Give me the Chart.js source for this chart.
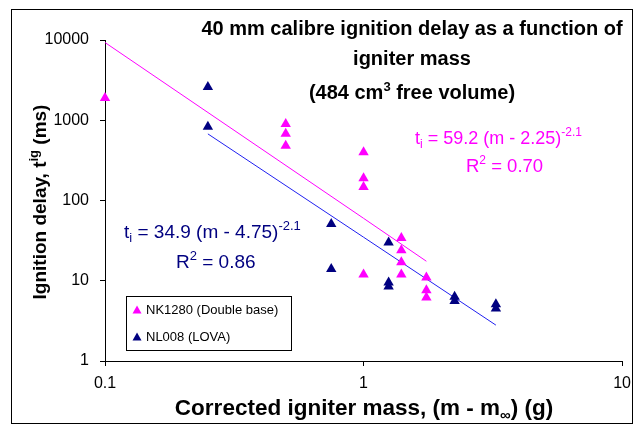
<!DOCTYPE html>
<html>
<head>
<meta charset="utf-8">
<script src="https://cdn.jsdelivr.net/npm/chart.js@4/dist/chart.umd.min.js"></script>
<style>
  html, body { margin: 0; padding: 0; background: #fff; }
  #wrap { width: 639px; height: 429px; position: relative; }
</style>
</head>
<body>
<div id="wrap"><canvas id="c" width="639" height="429"></canvas></div>
<script>
// NK1280 (Double base) measurements
const nkMass = [0.1, 0.5, 0.5, 0.5, 1, 1, 1, 1, 1.4, 1.4, 1.4, 1.4, 1.75, 1.75, 1.75];
const nkDelay = [1900, 900, 680, 480, 400, 190, 147, 12, 34, 24, 17, 12, 11, 7.6, 6.2];
// NL008 (LOVA) measurements
const nlMass = [0.25, 0.25, 0.75, 0.75, 1.25, 1.25, 1.25, 2.25, 2.25, 3.25, 3.25];
const nlDelay = [2600, 830, 51, 14, 30, 9.5, 8.5, 6.3, 5.6, 5.1, 4.5];
// fitted trend lines (end points)
const nkFitMass = [0.1, 1, 1.75];
const nkFitDelay = [9300, 60, 17.5];
const nlFitMass = [0.25, 1, 3.25];
const nlFitDelay = [676, 34.9, 2.8];

const xTicks = [0.1, 1, 10];
const yTicks = [1, 10, 100, 1000, 10000];

const PINK = '#FF00FF', NAVY = '#000080', BLUE = '#2020F0';
const xy = (xs, ys) => xs.map((x, i) => ({ x, y: ys[i] }));

// draws text made of runs, some raised or lowered
function richText(ctx, runs, x, y, align, size, bold, color) {
  const base = (bold ? 'bold ' : '') + size + 'px "Liberation Sans", Arial, sans-serif';
  const small = (bold ? 'bold ' : '') + Math.round(size * 0.66) + 'px "Liberation Sans", Arial, sans-serif';
  let w = 0;
  runs.forEach(r => { ctx.font = r.s ? small : base; w += ctx.measureText(r.t).width; });
  let cx = align === 'center' ? x - w / 2 : align === 'right' ? x - w : x;
  ctx.fillStyle = color;
  ctx.textAlign = 'left';
  ctx.textBaseline = 'alphabetic';
  runs.forEach(r => {
    ctx.font = r.s ? small : base;
    const dy = r.s === 'sup' ? -size * 0.42 : r.s === 'sub' ? size * 0.22 : 0;
    ctx.fillText(r.t, cx, y + dy);
    cx += ctx.measureText(r.t).width;
  });
}

const annotations = {
  id: 'annotations',
  afterDraw(chart) {
    const ctx = chart.ctx;
    ctx.save();
    // outer frame
    ctx.strokeStyle = '#000';
    ctx.lineWidth = 1;
    ctx.strokeRect(11.5, 9.5, 621, 414);

    // title
    richText(ctx, [{ t: '40 mm calibre ignition delay as a function of' }], 412, 35, 'center', 20, true, '#000');
    richText(ctx, [{ t: 'igniter mass' }], 412, 65, 'center', 20, true, '#000');
    richText(ctx, [{ t: '(484 cm' }, { t: '3', s: 'sup' }, { t: ' free volume)' }], 412, 99, 'center', 20, true, '#000');

    // fit equations
    richText(ctx, [{ t: 't' }, { t: 'i', s: 'sub' }, { t: ' = 59.2 (m - 2.25)' }, { t: '-2.1', s: 'sup' }], 415, 144, 'left', 18, false, PINK);
    richText(ctx, [{ t: 'R' }, { t: '2', s: 'sup' }, { t: ' = 0.70' }], 466, 172, 'left', 18.5, false, PINK);
    richText(ctx, [{ t: 't' }, { t: 'i', s: 'sub' }, { t: ' = 34.9 (m - 4.75)' }, { t: '-2.1', s: 'sup' }], 124, 238, 'left', 19, false, NAVY);
    richText(ctx, [{ t: 'R' }, { t: '2', s: 'sup' }, { t: ' = 0.86' }], 176, 268, 'left', 19, false, NAVY);

    // axis titles
    richText(ctx, [{ t: 'Corrected igniter mass, (m - m' }, { t: '\u221E', s: 'sub' }, { t: ') (g)' }], 364, 415, 'center', 22.5, true, '#000');
    ctx.translate(46, 202);
    ctx.rotate(-Math.PI / 2);
    richText(ctx, [{ t: 'Ignition delay, t' }, { t: 'ig', s: 'sup' }, { t: ' (ms)' }], 0, 0, 'center', 19, true, '#000');
    ctx.setTransform(1, 0, 0, 1, 0, 0);

    // legend box
    ctx.fillStyle = '#fff';
    ctx.fillRect(126, 296, 165, 54);
    ctx.strokeStyle = '#000';
    ctx.strokeRect(126.5, 296.5, 165, 54);
    chart.data.datasets.filter(d => d.showLine === false).forEach((d, i) => {
      const ly = 310 + i * 27;
      ctx.fillStyle = d.backgroundColor;
      ctx.beginPath();
      ctx.moveTo(137, ly - 4.5);
      ctx.lineTo(141.5, ly + 3.5);
      ctx.lineTo(132.5, ly + 3.5);
      ctx.closePath();
      ctx.fill();
      ctx.fillStyle = '#000';
      ctx.font = '13px "Liberation Sans", Arial, sans-serif';
      ctx.textBaseline = 'middle';
      ctx.fillText(d.label, 146, ly);
    });
    ctx.restore();
  }
};

new Chart(document.getElementById('c'), {
  type: 'scatter',
  data: {
    datasets: [
      {
        label: 'NK1280 fit', data: xy(nkFitMass, nkFitDelay), showLine: true,
        borderColor: PINK, borderWidth: 1, pointRadius: 0, fill: false, order: 3,
      },
      {
        label: 'NL008 fit', data: xy(nlFitMass, nlFitDelay), showLine: true,
        borderColor: BLUE, borderWidth: 1, pointRadius: 0, fill: false, order: 3,
      },
      {
        label: 'NK1280 (Double base)', data: xy(nkMass, nkDelay), showLine: false, clip: false,
        pointStyle: 'triangle', pointRadius: 6, backgroundColor: PINK, borderColor: PINK,
        borderWidth: 0, order: 2,
      },
      {
        label: 'NL008 (LOVA)', data: xy(nlMass, nlDelay), showLine: false, clip: false,
        pointStyle: 'triangle', pointRadius: 6, backgroundColor: NAVY, borderColor: NAVY,
        borderWidth: 0, order: 1,
      },
    ],
  },
  options: {
    responsive: false,
    animation: false,
    layout: { padding: { top: 40, right: 15, left: 0, bottom: 0 } },
    plugins: { legend: { display: false }, tooltip: { enabled: false }, title: { display: false } },
    scales: {
      x: {
        type: 'logarithmic', min: 0.1, max: 10,
        afterBuildTicks: s => { s.ticks = xTicks.map(v => ({ value: v })); },
        afterFit: s => { s.height = 68; },
        border: { color: '#000', width: 1 },
        grid: { drawOnChartArea: false, drawTicks: true, tickLength: 5, color: '#000' },
        ticks: {
          color: '#000', padding: 8, maxRotation: 0,
          font: { family: '"Liberation Sans", Arial, sans-serif', size: 16 },
          callback: v => String(v),
        },
      },
      y: {
        type: 'logarithmic', min: 1, max: 10000,
        afterBuildTicks: s => { s.ticks = yTicks.map(v => ({ value: v })); },
        afterFit: s => { s.width = 105; },
        border: { color: '#000', width: 1 },
        grid: { drawOnChartArea: false, drawTicks: true, tickLength: 5, color: '#000' },
        ticks: {
          color: '#000', padding: 11,
          font: { family: '"Liberation Sans", Arial, sans-serif', size: 16 },
          callback: v => String(v),
        },
      },
    },
  },
  plugins: [annotations],
});
</script>
</body>
</html>
